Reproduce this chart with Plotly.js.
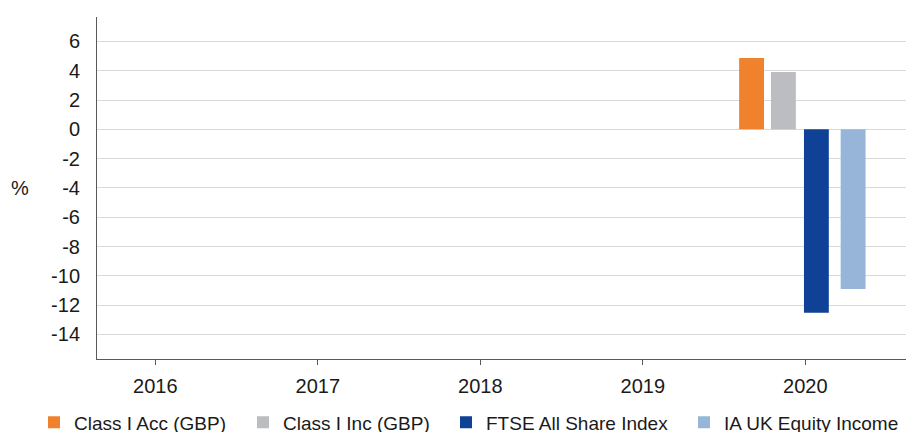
<!DOCTYPE html>
<html>
<head>
<meta charset="utf-8">
<script src="https://cdn.plot.ly/plotly-3.0.1.min.js"></script>
<style>html,body{margin:0;padding:0;background:#fff;}#chart{width:906px;height:432px;}</style>
</head>
<body>
<div id="chart"></div>
<script>
const years = ['2016', '2017', '2018', '2019', '2020'];
const seriesNames = ['Class I Acc (GBP)', 'Class I Inc (GBP)', 'FTSE All Share Index', 'IA UK Equity Income'];
const classIAcc = [null, null, null, null, 4.87];
const classIInc = [null, null, null, null, 3.91];
const ftseAllShare = [null, null, null, null, -12.52];
const iaUkEquityIncome = [null, null, null, null, -10.9];
const yTickVals = [6, 4, 2, 0, -2, -4, -6, -8, -10, -12, -14];

const colors = ['#f0822e', '#bcbdc0', '#0f4196', '#97b4d9'];
const offsets = [-0.407, -0.211, -0.008, 0.218];
const legendIds = ['legend', 'legend2', 'legend3', 'legend4'];
const legendX = [34, 243, 446, 684];
const allSeries = [classIAcc, classIInc, ftseAllShare, iaUkEquityIncome];

const traces = allSeries.map((vals, i) => ({
  type: 'bar',
  name: seriesNames[i],
  legend: legendIds[i],
  x: years,
  y: vals,
  width: 0.153,
  offset: offsets[i],
  marker: {color: colors[i], line: {width: 0}},
  hoverinfo: 'skip'
}));

const font = {family: 'Liberation Sans, Arial, sans-serif', color: '#1a1a1a'};

const layout = {
  width: 906, height: 432,
  margin: {l: 97, r: 0, t: 17, b: 73, pad: 0},
  paper_bgcolor: '#ffffff', plot_bgcolor: '#ffffff',
  barmode: 'overlay',
  showlegend: true,
  font: Object.assign({size: 20}, font),
  xaxis: {
    type: 'category',
    range: [-0.359, 4.62],
    showgrid: false,
    zeroline: false,
    showline: true, linecolor: '#595959', linewidth: 1,
    ticks: 'outside', ticklen: 5, tickcolor: '#595959', tickwidth: 1,
    ticklabelstandoff: 4,
    tickfont: Object.assign({size: 20}, font),
    fixedrange: true
  },
  yaxis: {
    range: [-15.68, 7.67],
    tickvals: yTickVals,
    ticktext: yTickVals.map(String),
    showgrid: true, gridcolor: '#d9d9d9', gridwidth: 1,
    zeroline: false,
    showline: true, linecolor: '#595959', linewidth: 1,
    ticks: '',
    ticklabelstandoff: 12,
    tickfont: Object.assign({size: 20}, font),
    fixedrange: true
  },
  annotations: [{
    text: '%', xref: 'paper', yref: 'paper',
    x: 0, y: 0.5, xshift: -77, xanchor: 'center', yanchor: 'middle',
    showarrow: false, font: Object.assign({size: 20}, font)
  }]
};

legendIds.forEach((id, i) => {
  layout[id] = {
    orientation: 'h',
    xref: 'container', yref: 'container',
    x: legendX[i] / 906, y: 0.066, xanchor: 'left', yanchor: 'top',
    font: Object.assign({size: 19}, font),
    bgcolor: 'rgba(0,0,0,0)',
    borderwidth: 0,
    itemclick: false, itemdoubleclick: false
  };
});

Plotly.newPlot('chart', traces, layout, {displayModeBar: false, staticPlot: true});
</script>
</body>
</html>
